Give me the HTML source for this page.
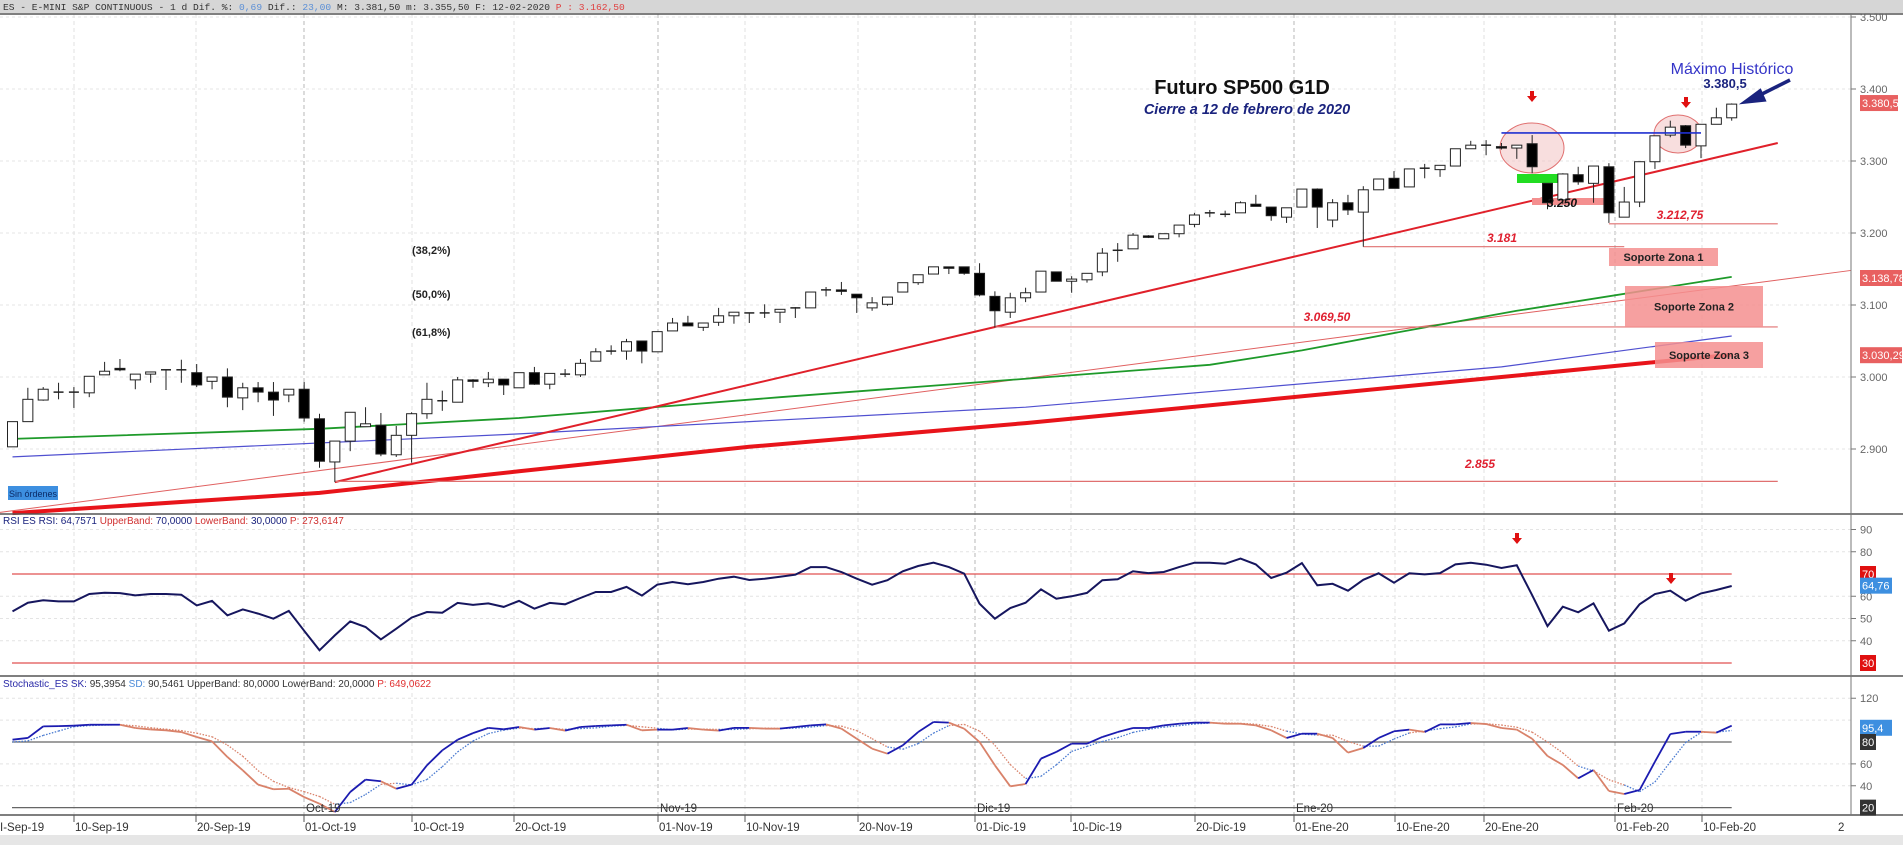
<!DOCTYPE html>
<html><head><meta charset="utf-8">
<style>
html,body{margin:0;padding:0;background:#fff;}
body{width:1903px;height:845px;overflow:hidden;font-family:"Liberation Sans",sans-serif;}
svg text{font-family:"Liberation Sans",sans-serif;}
</style></head>
<body>
<svg id="chart" width="1903" height="845" viewBox="0 0 1903 845" xmlns="http://www.w3.org/2000/svg">
  <rect x="0" y="0" width="1903" height="845" fill="#ffffff"/>
  <rect x="0" y="0" width="1903" height="13" fill="#d6d6d6"/>
  <text x="3" y="10" font-size="9.6" style="font-family:'Liberation Mono',monospace" fill="#333">ES - E-MINI S&amp;P CONTINUOUS -  1 d Dif. %: <tspan fill="#5b8fd6">0,69</tspan> Dif.: <tspan fill="#5b8fd6">23,00</tspan> M: 3.381,50 m: 3.355,50 F: 12-02-2020 <tspan fill="#e04040">P : 3.162,50</tspan></text>
  <g id="grid"></g>
  <g id="main"></g>
  <g id="rsi"></g>
  <g id="stoch"></g>
  <g id="axes"></g>
</svg>
<script>
// ---------- data ----------
const opens  = [2903,2938,2968,2979,2979,2978,3003,3012,2996,3004,3010,3010,3006,2994,3000,2971,2985,2979,2975,2983,2942,2882,2911,2931,2933,2892,2919,2949,2967,2965,2996,2992,2997,2985,3006,2990,3004,3003,3022,3036,3036,3050,3035,3064,3075,3069,3076,3085,3089,3089,3090,3096,3096,3121,3121,3115,3096,3101,3118,3131,3143,3153,3153,3144,3112,3090,3110,3118,3146,3133,3135,3146,3176,3178,3196,3192,3199,3212,3228,3226,3228,3240,3236,3222,3236,3261,3218,3242,3229,3260,3276,3264,3290,3288,3293,3317,3322,3320,3318,3324,3269,3246,3281,3269,3292,3222,3243,3299,3336,3349,3321,3351,3360];
const highs  = [2938,2985,2986,2992,2986,3001,3021,3025,3004,3007,3010,3024,3018,3000,3012,2992,2993,2993,2983,2993,2949,2911,2951,2958,2950,2932,2951,2992,2981,3000,2997,3007,2997,3006,3014,3005,3011,3025,3040,3044,3053,3050,3063,3082,3085,3075,3096,3090,3089,3101,3094,3097,3118,3125,3132,3115,3111,3111,3131,3142,3153,3153,3153,3158,3119,3117,3124,3147,3146,3140,3144,3179,3186,3200,3197,3199,3211,3228,3232,3231,3244,3253,3236,3235,3261,3262,3247,3253,3265,3275,3286,3289,3296,3294,3317,3328,3329,3325,3322,3336,3269,3283,3292,3293,3297,3264,3299,3335,3356,3350,3351,3374,3380];
const lows   = [2903,2938,2967,2969,2957,2972,3003,3008,2983,2992,2982,2992,2986,2983,2958,2954,2965,2946,2965,2938,2874,2854,2897,2931,2890,2889,2881,2942,2953,2965,2985,2986,2975,2985,2989,2983,3000,3000,3022,3031,3024,3019,3035,3064,3071,3064,3071,3074,3075,3082,3075,3082,3096,3112,3114,3089,3092,3099,3118,3128,3143,3143,3142,3112,3069,3082,3104,3118,3133,3117,3131,3140,3160,3178,3193,3192,3194,3208,3222,3222,3228,3237,3217,3214,3236,3207,3208,3225,3181,3260,3262,3264,3276,3278,3293,3317,3308,3316,3303,3283,3233,3240,3267,3242,3214,3222,3236,3289,3333,3318,3304,3351,3356];
const closes = [2938,2969,2983,2979,2979,3001,3008,3010,3004,3007,3010,3010,2989,3000,2972,2985,2979,2968,2983,2943,2883,2911,2951,2935,2893,2919,2949,2969,2967,2996,2994,2997,2989,3006,2990,3005,3004,3019,3035,3036,3049,3036,3063,3075,3071,3075,3085,3090,3089,3089,3094,3096,3118,3121,3119,3110,3103,3111,3131,3142,3153,3151,3144,3114,3092,3110,3117,3147,3133,3136,3144,3172,3176,3197,3194,3199,3211,3225,3228,3226,3242,3237,3224,3235,3261,3236,3242,3232,3260,3275,3262,3289,3290,3294,3317,3322,3322,3318,3322,3292,3242,3282,3271,3293,3228,3243,3299,3335,3347,3322,3351,3360,3379];
const rsiValues = [53.2,57.1,58.2,57.7,57.7,61.0,61.6,61.4,60.4,61.0,61.0,60.7,55.9,57.9,51.4,54.1,52.2,49.9,53.4,44.5,35.7,42.4,48.7,46.2,40.6,45.4,50.4,52.9,52.6,57.0,56.1,56.8,55.2,57.9,54.4,57.0,56.4,59.2,61.9,61.9,64.2,60.3,65.2,66.4,65.4,66.4,67.9,68.8,67.3,67.9,68.8,69.7,73.1,73.1,70.9,67.9,65.2,67.2,71.2,73.6,75.1,73.1,70.2,56.7,49.9,54.7,57.1,63.1,58.9,60.0,61.5,67.2,67.6,71.2,70.4,70.9,73.1,75.1,75.1,74.6,76.9,74.3,68.2,70.6,74.9,64.9,65.6,62.5,67.4,70.3,66.1,70.3,69.8,70.4,74.3,75.1,74.2,72.7,73.9,60.5,46.6,55.3,52.8,56.8,44.5,47.8,56.4,61.0,62.5,58.0,61.3,62.8,64.6];
const stochK = [82.1,83.7,94.3,94.5,94.9,95.8,95.8,95.8,92.8,91.5,90.7,89.1,84.6,80.6,66.3,54.1,41.0,36.8,37.3,29.7,23.6,16.0,34.3,45.6,44.1,37.3,41.0,58.7,72.4,82.1,88.1,92.9,91.6,93.7,91.3,92.8,90.4,93.7,94.6,95.2,95.8,90.7,91.3,91.3,92.8,91.3,90.4,92.9,92.9,92.2,92.2,93.7,95.2,96.1,92.2,83.0,73.9,69.3,77.0,89.1,98.3,97.7,92.2,80.0,58.7,39.5,41.6,64.8,70.9,78.5,78.5,84.6,89.1,92.8,92.8,95.2,96.7,97.7,97.7,96.7,96.7,95.2,90.7,83.7,87.6,87.6,83.7,70.3,74.5,83.7,89.8,91.3,89.1,96.1,96.1,97.4,96.4,92.8,91.3,83.0,67.2,59.0,46.8,54.4,35.2,32.5,36.1,62.0,87.3,89.4,89.4,88.5,94.9];
const stochD = [80,81,86,90,94,95,95.5,95.8,94.8,93,91.7,90.4,88.1,84.8,77.2,67,53.8,44,38.4,34.6,30.2,23.1,24.6,32,41.3,42.3,40.8,45.7,57.4,71,80.9,87.7,90.9,92.7,92.2,92.6,91.5,92.3,92.9,94.5,95.2,93.9,92.6,91.1,91.8,91.8,91.5,91.5,92.1,92.7,92.4,92.7,93.7,95,94.5,90.4,83,75.4,73.4,78.5,88.1,95,96.1,90,77,59.4,46.6,48.6,59.1,71.4,76,80.5,84,88.8,91.6,93.6,94.9,96.5,97.4,97.4,97,96.2,94.2,89.9,87.3,86.3,86.3,80.5,76.2,76.2,82.7,88.3,90.1,92.2,93.8,96.5,96.6,95.5,93.5,89,80,70,58,53.5,45.5,40.7,34.6,43.5,61.8,79.6,88.7,89.1,90.5];
// moving averages (keypoints: bar index, price)
const maGreenIdx = [0,20,33,50,65,78,84,91,98,112];
const maGreenVal = [2914,2928,2943,2972,2996,3017,3037,3065,3092,3139];
const maBlueIdx = [0,33,48,66,97,112];
const maBlueVal = [2889,2921,2938,2958,3014,3057];
const maRedIdx = [0,20,33,48,66,97,112];
const maRedVal = [2811,2839,2869,2903,2936,3000,3031];
const priceTicks = [2900,3000,3100,3200,3300,3400,3500];
const priceTickLabels = ["2.900","3.000","3.100","3.200","3.300","3.400","3.500"];
const rsiTicks = [40,50,60,80,90];
const stochTicks = [40,60,120];
const dateTickX = [74,196,304,412,514,658,745,858,975,1071,1195,1294,1395,1484,1615,1702];
const dateLabels = ["10-Sep-19","20-Sep-19","01-Oct-19","10-Oct-19","20-Oct-19","01-Nov-19","10-Nov-19","20-Nov-19","01-Dic-19","10-Dic-19","20-Dic-19","01-Ene-20","10-Ene-20","20-Ene-20","01-Feb-20","10-Feb-20"];
const monthTickIdx = [2,5,8,11,14];
const monthLabels = ["Oct-19","Nov-19","Dic-19","Ene-20","Feb-20"];

// ---------- scales ----------
const PLOT_R = 1851;
const bx = i => 12.5 + i * 15.35;
const py = p => 377 - (p - 3000) * 0.72;
const ry = v => 574 + (70 - v) * 2.225;
const sy = v => 742 + (80 - v) * 1.094;
const NS = "http://www.w3.org/2000/svg";
function mk(tag, attrs, parent, txt){
  const e = document.createElementNS(NS, tag);
  for (const k in attrs) e.setAttribute(k, attrs[k]);
  if (txt !== undefined) e.textContent = txt;
  parent.appendChild(e);
  return e;
}
const grid = document.getElementById('grid');
const main = document.getElementById('main');
const rsiG = document.getElementById('rsi');
const stG = document.getElementById('stoch');
const axG = document.getElementById('axes');

// ---------- grid ----------
dateTickX.forEach((x, k) => {
  const isMonth = [2,5,8,11,14].indexOf(k) >= 0;
  const l = mk('line', {x1:x, y1:14, x2:x, y2:815, stroke: isMonth ? '#c8c8c8' : '#e2e2e2', 'stroke-dasharray':'4,3', 'stroke-width': isMonth ? 1.3 : 1}, grid);
  
  
});
priceTicks.forEach(p => {
  const l = mk('line', {x1:0, y1:py(p), x2:PLOT_R, y2:py(p), stroke:'#e4e4e4', 'stroke-dasharray':'3,3'}, grid);
  
  
});
[90,80,60,50,40].forEach(v => {
  const l = mk('line', {x1:0, y1:ry(v), x2:PLOT_R, y2:ry(v), stroke:'#e4e4e4', 'stroke-dasharray':'3,3'}, grid);
  
  
});
[120,100,60,40].forEach(v => {
  const l = mk('line', {x1:0, y1:sy(v), x2:PLOT_R, y2:sy(v), stroke:'#e4e4e4', 'stroke-dasharray':'3,3'}, grid);
  
  
});

// ---------- main panel: MAs and trend lines ----------
function poly(idxArr, valArr, color, w, name){
  const pts = idxArr.map((i,k) => bx(i).toFixed(1) + ',' + py(valArr[k]).toFixed(1)).join(' ');
  const p = mk('polyline', {points: pts, fill:'none', stroke: color, 'stroke-width': w}, main);
  
  
}
// thin long red trendline
let t = mk('line', {x1:0, y1:py(2812), x2:PLOT_R, y2:py(3148), stroke:'#e06060', 'stroke-width':1}, main);


poly(maRedIdx, maRedVal, '#e8141a', 4, 'ma-200-red');
poly(maBlueIdx, maBlueVal, '#5050d0', 1.2, 'ma-blue');
poly(maGreenIdx, maGreenVal, '#1e9a2a', 1.8, 'ma-green');
// main uptrend
t = mk('line', {x1:bx(21), y1:py(2854), x2:bx(115), y2:py(3325), stroke:'#e0202a', 'stroke-width':2}, main);


// horizontal levels
function hline(i0, i1, p, color, name){
  const l = mk('line', {x1:bx(i0), y1:py(p), x2:bx(i1), y2:py(p), stroke:color, 'stroke-width':1.2}, main);
  
  
}
hline(21, 115, 2855, '#e07070', 'level-2855');
hline(64, 115, 3069.5, '#e07070', 'level-3069');
hline(88, 105, 3181, '#e07070', 'level-3181');
hline(104, 115, 3212.75, '#e07070', 'level-3212');
function lvlText(x, y, s, name){
  const e = mk('text', {x:x, y:y, 'font-size':12, 'font-weight':'bold', 'font-style':'italic', fill:'#e02030', 'text-anchor':'middle'}, main, s);
  
  
}
lvlText(1480, 468, '2.855', 'label-2855');
lvlText(1327, 321, '3.069,50', 'label-3069');
lvlText(1502, 242, '3.181', 'label-3181');
lvlText(1680, 219, '3.212,75', 'label-3212');
// zones
function zone(x, y, w, h, s, name){
  const r = mk('rect', {x:x, y:y, width:w, height:h, fill:'#f48f8f', opacity:0.85}, main);
  
  
  const e = mk('text', {x:x + w/2, y:y + h/2 + 4, 'font-size':11, 'font-weight':'bold', fill:'#222', 'text-anchor':'middle'}, main, s);
  
  
}
zone(1609, 248, 109, 18, 'Soporte Zona 1', 'support-zone-1');
zone(1625, 286, 138, 41, 'Soporte Zona 2', 'support-zone-2');
zone(1655, 342, 108, 26, 'Soporte Zona 3', 'support-zone-3');
// 3250 box
let r = mk('rect', {x:1532, y:198, width:73, height:7, fill:'#f48f8f'}, main);


r = mk('rect', {x:1517, y:174, width:46, height:9, fill:'#22dd22'}, main);


// ellipses
let el = mk('ellipse', {cx:1532, cy:148, rx:32, ry:25, fill:'#f4c8c8', 'fill-opacity':0.6, stroke:'#e07070'}, main);


el = mk('ellipse', {cx:1678, cy:134, rx:24, ry:19, fill:'#f4c8c8', 'fill-opacity':0.6, stroke:'#e07070'}, main);



// candles
for (let i = 0; i < opens.length; i++){
  const x = bx(i), o = opens[i], c = closes[i], h = highs[i], lo = lows[i];
  const g = mk('g', {}, main);
  
  
  mk('line', {x1:x, y1:py(h), x2:x, y2:py(lo), stroke:'#222', 'stroke-width':1}, g);
  const top = py(Math.max(o,c)), bot = py(Math.min(o,c));
  const bh = Math.max(bot - top, 1.5);
  if (Math.abs(c - o) < 0.5){
    mk('line', {x1:x-5, y1:top, x2:x+5, y2:top, stroke:'#222', 'stroke-width':1.5}, g);
  } else {
    mk('rect', {x:x-5, y:top, width:10, height:bh, fill: c >= o ? '#fff' : '#000', stroke:'#222', 'stroke-width':1}, g);
  }
}
// blue resistance line
t = mk('line', {x1:bx(97), y1:py(3339), x2:bx(110), y2:py(3339), stroke:'#2030d0', 'stroke-width':1.6}, main);


lvlText(1560, 207, '', 'spacer');
let tx = mk('text', {x:1562, y:207, 'font-size':12, 'font-weight':'bold', 'font-style':'italic', fill:'#111', 'text-anchor':'middle'}, main, '3.250');



// arrows
function downArrow(g, x, y, name){
  const p = mk('path', {d:`M${x-2},${y-7} h4 v5 h3 l-5,6 l-5,-6 h3 z`, fill:'#e01010'}, g);
  
  
}
downArrow(main, 1532, 98, 'signal-arrow-1');
downArrow(main, 1686, 104, 'signal-arrow-2');
// title texts
tx = mk('text', {x:1242, y:94, 'font-size':20, 'font-weight':'bold', fill:'#111', 'text-anchor':'middle'}, main, 'Futuro SP500 G1D');


tx = mk('text', {x:1247, y:114, 'font-size':14.5, 'font-weight':'bold', 'font-style':'italic', fill:'#1a237e', 'text-anchor':'middle'}, main, 'Cierre a 12 de febrero de 2020');


tx = mk('text', {x:1732, y:74, 'font-size':16, fill:'#3535c8', 'text-anchor':'middle'}, main, 'Máximo Histórico');


tx = mk('text', {x:1725, y:88, 'font-size':13, 'font-weight':'bold', fill:'#1a237e', 'text-anchor':'middle'}, main, '3.380,5');


t = mk('path', {d:'M1790,80 L1756,97 M1745,102 L1760,91 L1764,100 Z', stroke:'#1a237e', 'stroke-width':3.5, fill:'#1a237e'}, main);


// fib labels
[['(38,2%)',254],['(50,0%)',298],['(61,8%)',336]].forEach(f => {
  const e = mk('text', {x:412, y:f[1], 'font-size':11, 'font-weight':'bold', fill:'#222'}, main, f[0]);
  
  
});
r = mk('rect', {x:8, y:486, width:50, height:14, fill:'#3d8fe0'}, main);


tx = mk('text', {x:33, y:497, 'font-size':9, fill:'#0b2a66', 'text-anchor':'middle'}, main, 'Sin órdenes');



// ---------- RSI ----------
[70,30].forEach(v => {
  const l = mk('line', {x1:12, y1:ry(v), x2:bx(112), y2:ry(v), stroke:'#e05050', 'stroke-width':1.2}, rsiG);
  
  
});
let pl = mk('polyline', {points: rsiValues.map((v,i) => bx(i).toFixed(1)+','+ry(v).toFixed(1)).join(' '), fill:'none', stroke:'#16165e', 'stroke-width':2}, rsiG);


downArrow(rsiG, 1517, 540, 'rsi-arrow-1');
downArrow(rsiG, 1671, 580, 'rsi-arrow-2');
tx = mk('text', {x:3, y:524, 'font-size':10, fill:'#1a237e'}, rsiG);
tx.innerHTML = 'RSI ES RSI: 64,7571 <tspan fill="#d03030">UpperBand:</tspan> 70,0000 <tspan fill="#d03030">LowerBand:</tspan> 30,0000 <tspan fill="#d03030">P: 273,6147</tspan>';



// ---------- Stochastic ----------
[80,20].forEach(v => {
  const l = mk('line', {x1:12, y1:sy(v), x2:bx(112), y2:sy(v), stroke:'#666', 'stroke-width':1.2}, stG);
  
  
});
for (let i = 1; i < stochK.length; i++){
  const up = stochK[i] >= stochD[i];
  const col = up ? '#1b1bb0' : '#d9826a';
  const ld = mk('line', {x1:bx(i-1), y1:sy(stochD[i-1]), x2:bx(i), y2:sy(stochD[i]), stroke: up ? '#4a7ad0' : '#d9826a', 'stroke-width':1.3, 'stroke-dasharray':'1.5,1.5'}, stG);
  
  
  const lk = mk('line', {x1:bx(i-1), y1:sy(stochK[i-1]), x2:bx(i), y2:sy(stochK[i]), stroke: col, 'stroke-width':1.8}, stG);
  
  
}
tx = mk('text', {x:3, y:687, 'font-size':10, fill:'#333'}, stG);
tx.innerHTML = '<tspan fill="#2a2aa8">Stochastic_ES SK:</tspan> 95,3954 <tspan fill="#4a8ad8">SD:</tspan> 90,5461 UpperBand: 80,0000 LowerBand: 20,0000 <tspan fill="#e03030">P: 649,0622</tspan>';


monthTickIdx.forEach((k, j) => {
  const e = mk('text', {x:dateTickX[k]+2, y:812, 'font-size':11.5, fill:'#333'}, stG, monthLabels[j]);
  
  
});

// ---------- axes & borders ----------
function border(y, name){
  const l = mk('line', {x1:0, y1:y, x2:1903, y2:y, stroke:'#555', 'stroke-width':1.5}, axG);
  
  
}
border(14, 'main-panel-top');
border(514, 'main-panel-bottom');
border(676, 'rsi-panel-bottom');
border(815, 'stoch-panel-bottom');
let al = mk('line', {x1:PLOT_R, y1:14, x2:PLOT_R, y2:815, stroke:'#777'}, axG);


function axLabel(y, s, name){
  const tk = mk('line', {x1:PLOT_R, y1:y, x2:PLOT_R+5, y2:y, stroke:'#777'}, axG);
  
  
  const e = mk('text', {x:1860, y:y+4, 'font-size':11, fill:'#666'}, axG, s);
  
  
}
priceTicks.forEach((p,k) => axLabel(py(p), priceTickLabels[k], 'price-tick-label'));
rsiTicks.forEach(v => axLabel(ry(v), String(v), 'rsi-tick-label'));
stochTicks.forEach(v => axLabel(sy(v), String(v), 'stoch-tick-label'));
function badge(y, s, bg, w, name){
  const b = mk('rect', {x:1860, y:y-8, width:w, height:16, fill:bg}, axG);
  
  
  const e = mk('text', {x:1862, y:y+4, 'font-size':11, fill:'#fff'}, axG, s);
  
  
}
badge(py(3380.5), '3.380,5', '#e86060', 38, 'last-price-badge');
badge(278, '3.138,78', '#e86060', 42, 'trendline-badge');
badge(py(3030.29), '3.030,29', '#e86060', 42, 'ma200-badge');
badge(ry(70), '70', '#e01010', 16, 'rsi-70-badge');
badge(ry(64.76), '64,76', '#3d8fe0', 32, 'rsi-value-badge');
badge(ry(30), '30', '#e01010', 16, 'rsi-30-badge');
badge(sy(93), '95,4', '#3d8fe0', 32, 'stoch-value-badge');
badge(sy(80), '80', '#333', 16, 'stoch-80-badge');
badge(sy(20), '20', '#333', 16, 'stoch-20-badge');

// date axis
const ab = mk('rect', {x:0, y:835, width:1903, height:10, fill:'#e6e6e6'}, axG);


let dl = mk('text', {x:0, y:831, 'font-size':11.5, fill:'#333'}, axG, 'I-Sep-19');


dateTickX.forEach((x, k) => {
  const tk = mk('line', {x1:x, y1:815, x2:x, y2:822, stroke:'#555'}, axG);
  
  
  const e = mk('text', {x:x+1, y:831, 'font-size':11.5, fill:'#333'}, axG, dateLabels[k]);
  
  
});
dl = mk('text', {x:1838, y:831, 'font-size':11.5, fill:'#333'}, axG, '2');


</script>
</body></html>
